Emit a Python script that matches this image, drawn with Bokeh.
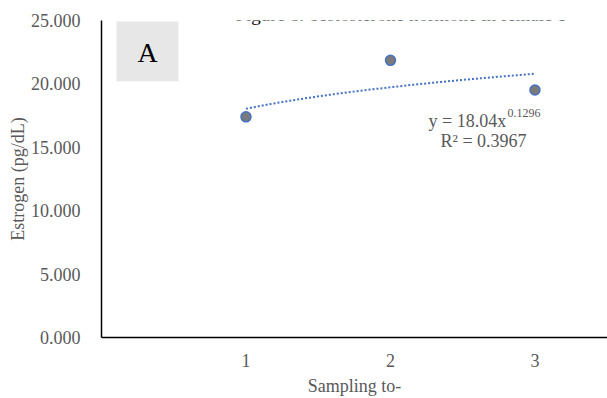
import numpy as np
from bokeh.plotting import figure
from bokeh.models import (Range1d, FixedTicker, NumeralTickFormatter, Label,
                          BoxAnnotation, ColumnDataSource)
from bokeh.embed import file_html
from bokeh.resources import INLINE

# ---- data ----
sampling = [1, 2, 3]
estrogen = [17.40, 21.86, 19.52]
y_ticks = [0, 5, 10, 15, 20, 25]
x_ticks = [1, 2, 3]
fit_a = 18.04
fit_b = 0.1296
r2 = 0.3967
title_text = "Figure 8. Testosterone hormone in female c"
panel_letter = "A"

FONT = "Liberation Serif"
GREY_TXT = "#595959"

# frame geometry helpers (page pixels -> data), for annotation placement only
FL, FT, FB = 101, 20, 338
XMAX = 3.502
PX_X = (607 - FL) / XMAX
PX_Y = (FB - FT) / 25.0


def dx(px):
    return (px - FL) / PX_X


def dy(py):
    return (FB - py) / PX_Y


p = figure(width=607, height=398, output_backend="svg", toolbar_location=None,
           x_range=Range1d(0, XMAX), y_range=Range1d(0, 25),
           min_border_left=FL, min_border_right=0, min_border_top=FT,
           min_border_bottom=398 - FB)
p.outline_line_color = None
p.grid.grid_line_color = None
p.background_fill_color = "white"
p.border_fill_color = "white"

# axes
p.yaxis.ticker = FixedTicker(ticks=y_ticks)
p.yaxis.formatter = NumeralTickFormatter(format="0.000")
p.xaxis.ticker = FixedTicker(ticks=x_ticks)
for ax in (p.xaxis, p.yaxis):
    ax.axis_line_color = "black"
    ax.axis_line_width = 1.5
    ax.major_tick_line_color = None
    ax.minor_tick_line_color = None
    ax.major_label_text_font = FONT
    ax.major_label_text_font_size = "18px"
    ax.major_label_text_color = GREY_TXT
    ax.axis_label_text_font = FONT
    ax.axis_label_text_font_size = "18px"
    ax.axis_label_text_font_style = "normal"
    ax.axis_label_text_color = GREY_TXT
p.yaxis.axis_label = "Estrogen (pg/dL)"
p.yaxis.major_label_standoff = 15
p.yaxis.axis_label_standoff = 0
p.xaxis.axis_label = "Sampling to-"
p.xaxis.major_label_standoff = 10
p.xaxis.axis_label_standoff = 6

# trendline from fit coefficients
xs = np.linspace(min(sampling), max(sampling), 60)
ys = fit_a * xs ** fit_b
p.line(xs, ys, line_color="#4472C4", line_width=2, line_dash="2 2")

# points
src = ColumnDataSource(dict(x=sampling, y=estrogen))
p.scatter("x", "y", source=src, size=10, fill_color="#7a7a7a",
          line_color="#4472C4", line_width=1.5)

# panel letter box
p.add_layout(BoxAnnotation(left=dx(116), right=dx(178), top=dy(21), bottom=dy(81),
                           fill_color="#e7e7e7", fill_alpha=1, line_color=None,
                           line_alpha=0))
p.add_layout(Label(x=dx(147), y=dy(52), text=panel_letter, text_font=FONT,
                   text_font_size="28px", text_color="black",
                   text_align="center", text_baseline="middle"))

# equation
p.add_layout(Label(x=dx(428), y=dy(121), text=f"y = {fit_a:.2f}x", text_font=FONT,
                   text_font_size="18px", text_color=GREY_TXT,
                   text_align="left", text_baseline="middle"))
p.add_layout(Label(x=dx(507), y=dy(113), text=f"{fit_b:.4f}", text_font=FONT,
                   text_font_size="12px", text_color=GREY_TXT,
                   text_align="left", text_baseline="middle"))
p.add_layout(Label(x=dx(440), y=dy(141), text=f"R\u00b2 = {r2:.4f}", text_font=FONT,
                   text_font_size="18px", text_color=GREY_TXT,
                   text_align="left", text_baseline="middle"))

# title (at the very top, as in the source where it is cut off by the crop)
p.add_layout(Label(x=dx(235), y=dy(14), text=title_text, text_font=FONT,
                   text_font_size="19px", text_color="black",
                   text_align="left", text_baseline="alphabetic"))

open("out.html", "w").write(file_html(p, INLINE))
